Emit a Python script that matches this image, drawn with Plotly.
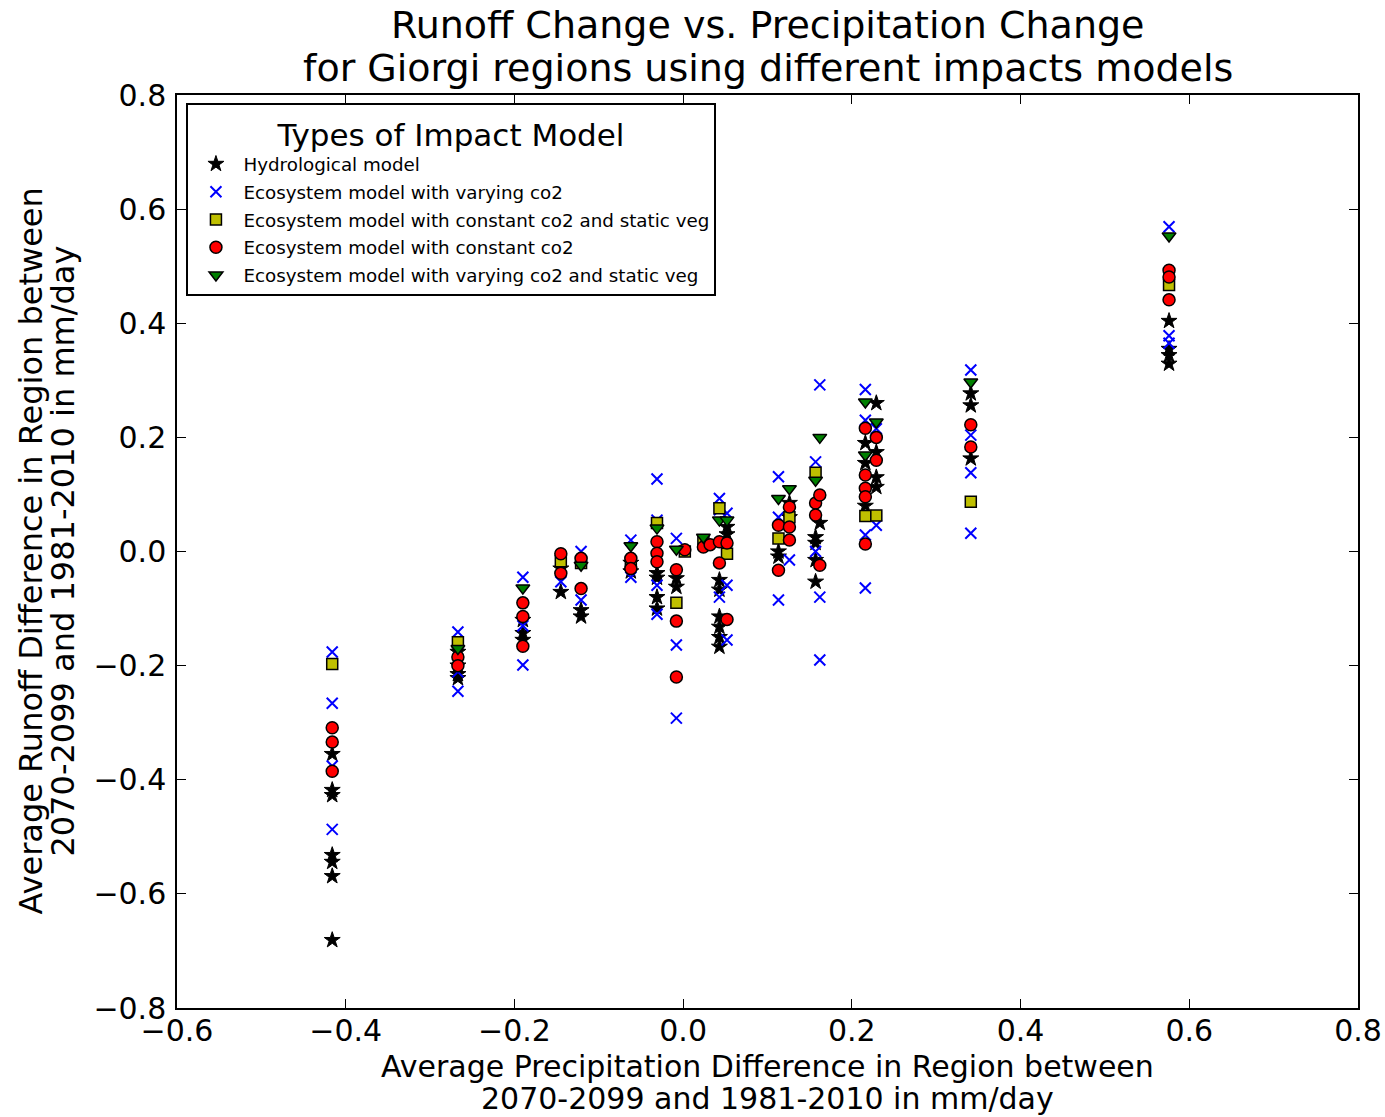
import plotly.graph_objects as go

# ---- data ----
hyd_x = [-0.416]*7 + [-0.267]*4 + [-0.19]*3 + [-0.145]*2 + [-0.121]*2 + [-0.062]*2 + [-0.031]*4 + [-0.008]*2 \
    + [0.043]*6 + [0.052]*2 + [0.113]*2 + [0.126]*2 + [0.157]*4 + [0.162] + [0.216]*3 + [0.229]*4 + [0.341]*3 + [0.576]*4
hyd_y = [-0.355, -0.418, -0.427, -0.532, -0.544, -0.569, -0.681,
         -0.176, -0.2, -0.215, -0.222,
         -0.12, -0.143, -0.155,
         -0.03, -0.071,
         -0.103, -0.114,
         -0.02, -0.035,
         -0.038, -0.046, -0.08, -0.1,
         -0.047, -0.062,
         -0.05, -0.067, -0.114, -0.132, -0.15, -0.167,
         0.043, 0.03,
         0.0, -0.009,
         0.085, 0.06,
         0.025, 0.015, -0.015, -0.053,
         0.05,
         0.19, 0.155, 0.08,
         0.26, 0.174, 0.13, 0.113,
         0.277, 0.256, 0.163,
         0.404, 0.355, 0.344, 0.329]

vco2_x = [-0.416]*4 + [-0.267]*3 + [-0.19]*3 + [-0.145] + [-0.121]*2 + [-0.062]*2 + [-0.031]*4 + [-0.008]*3 \
    + [0.043]*3 + [0.052]*3 + [0.113]*3 + [0.126] + [0.157]*2 + [0.162]*3 + [0.216]*4 + [0.229]*2 + [0.341]*4 + [0.576]*3
vco2_y = [-0.176, -0.266, -0.376, -0.487,
          -0.141, -0.211, -0.245,
          -0.045, -0.13, -0.199,
          -0.053,
          0.0, -0.085,
          0.02, -0.045,
          0.127, 0.055, -0.059, -0.11,
          0.023, -0.164, -0.292,
          0.093, 0.073, -0.08,
          0.067, -0.059, -0.155,
          0.131, 0.06, -0.085,
          -0.015,
          0.157, 0.0,
          0.292, -0.08, -0.19,
          0.284, 0.23, 0.029, -0.064,
          0.046, 0.215,
          0.318, 0.204, 0.138, 0.032,
          0.569, 0.378, 0.365]

csv_x = [-0.416, -0.267, -0.145, -0.121, -0.062, -0.031, -0.008, 0.002, 0.024, 0.043,
         0.052, 0.113, 0.126, 0.157, 0.216, 0.229, 0.341, 0.576]
csv_y = [-0.197, -0.159, -0.017, -0.02, -0.02, 0.05, -0.09, 0.0, 0.017, 0.076,
         -0.004, 0.023, 0.06, 0.138, 0.062, 0.063, 0.087, 0.467]

cco2_x = [-0.416]*3 + [-0.267]*2 + [-0.19]*3 + [-0.145]*2 + [-0.121]*2 + [-0.062]*2 + [-0.031]*3 + [-0.008]*3 \
    + [0.002, 0.024, 0.032] + [0.043]*2 + [0.052]*2 + [0.113]*2 + [0.126]*3 + [0.157]*2 + [0.162]*2 \
    + [0.216]*5 + [0.229]*2 + [0.341]*2 + [0.576]*3
cco2_y = [-0.309, -0.334, -0.385,
          -0.185, -0.2,
          -0.09, -0.114, -0.166,
          -0.004, -0.038,
          -0.012, -0.065,
          -0.012, -0.03,
          0.017, -0.003, -0.018,
          -0.032, -0.122, -0.22,
          0.003, 0.008, 0.012,
          0.017, -0.02,
          0.015, -0.119,
          0.046, -0.033,
          0.078, 0.043, 0.02,
          0.085, 0.064,
          0.099, -0.024,
          0.216, 0.134, 0.111, 0.096, 0.013,
          0.2, 0.16,
          0.222, 0.183,
          0.493, 0.481, 0.441]

vsv_x = [-0.267, -0.19, -0.121, -0.062, -0.031, -0.008, 0.024, 0.043, 0.052, 0.113,
         0.126, 0.157, 0.162, 0.216, 0.216, 0.229, 0.341, 0.576]
vsv_y = [-0.17, -0.064, -0.024, 0.01, 0.041, 0.004, 0.025, 0.055, 0.055, 0.093,
         0.11, 0.125, 0.2, 0.262, 0.169, 0.227, 0.297, 0.553]

x_ticks = [-0.6, -0.4, -0.2, 0.0, 0.2, 0.4, 0.6, 0.8]
y_ticks = [-0.8, -0.6, -0.4, -0.2, 0.0, 0.2, 0.4, 0.6, 0.8]

title_lines = ["Runoff Change vs. Precipitation Change",
               "for Giorgi regions using different impacts models"]
xtitle_lines = ["Average Precipitation Difference in Region between",
                "2070-2099 and 1981-2010 in mm/day"]
ytitle_lines = ["Average Runoff Difference in Region between",
                "2070-2099 and 1981-2010 in mm/day"]

FONT = "DejaVu Sans"

fig = go.Figure()
fig.add_trace(go.Scatter(x=hyd_x, y=hyd_y, mode="markers", name="Hydrological model", legendgroup="a",
                         marker=dict(symbol="star", size=12, color="black", line=dict(color="black", width=1))))
fig.add_trace(go.Scatter(x=vco2_x, y=vco2_y, mode="markers", name="Ecosystem model with varying co2", legendgroup="b",
                         marker=dict(symbol="x-thin", size=11, color="blue", line=dict(color="blue", width=2))))
fig.add_trace(go.Scatter(x=csv_x, y=csv_y, mode="markers", name="Ecosystem model with constant co2 and static veg",
                         legendgroup="c",
                         marker=dict(symbol="square", size=11, color="#bfbf00", line=dict(color="black", width=1.5))))
fig.add_trace(go.Scatter(x=cco2_x, y=cco2_y, mode="markers", name="Ecosystem model with constant co2", legendgroup="d",
                         marker=dict(symbol="circle", size=12, color="red", line=dict(color="black", width=1.5))))
fig.add_trace(go.Scatter(x=vsv_x, y=vsv_y, mode="markers", name="Ecosystem model with varying co2 and static veg",
                         legendgroup="e",
                         marker=dict(symbol="triangle-down", size=12, color="green", line=dict(color="black", width=1.5))))

axis_common = dict(showgrid=False, zeroline=False, showline=True, linecolor="black", linewidth=1.5,
                   mirror="allticks", ticks="inside", ticklen=9, tickwidth=1, tickcolor="black",
                   tickfont=dict(family=FONT, size=30, color="black"), tickformat=".1f", automargin=False)

annotations = []
# title lines (pixel offsets above the plot top)
for txt, shift in zip(title_lines, [70, 27]):
    annotations.append(dict(text=txt, xref="paper", yref="paper", x=0.5, y=1, yshift=shift,
                            xanchor="center", yanchor="middle", showarrow=False,
                            font=dict(family=FONT, size=38, color="black")))
for txt, shift in zip(xtitle_lines, [-58, -90]):
    annotations.append(dict(text=txt, xref="paper", yref="paper", x=0.5, y=0, yshift=shift,
                            xanchor="center", yanchor="middle", showarrow=False,
                            font=dict(family=FONT, size=30, color="black")))
for txt, shift in zip(ytitle_lines, [-147, -115]):
    annotations.append(dict(text=txt, xref="paper", yref="paper", x=0, y=0.5, xshift=shift,
                            xanchor="center", yanchor="middle", showarrow=False, textangle=-90,
                            font=dict(family=FONT, size=32, color="black")))

fig.update_layout(
    width=1385, height=1117,
    margin=dict(l=177, r=27, t=95, b=109, autoexpand=False),
    paper_bgcolor="white", plot_bgcolor="white",
    font=dict(family=FONT, color="black"),
    xaxis=dict(range=[-0.6, 0.8], tickvals=x_ticks, ticklabelstandoff=-5, **axis_common),
    yaxis=dict(range=[-0.8, 0.8], tickvals=y_ticks, ticklabelstandoff=3, **axis_common),
    annotations=annotations,
    legend=dict(x=0.008, y=0.991, xanchor="left", yanchor="top",
                bordercolor="black", borderwidth=2, bgcolor="white",
                font=dict(family=FONT, size=18.3, color="black"),
                title=dict(text="Types of Impact Model", side="top center",
                           font=dict(family=FONT, size=31, color="black")),
                tracegroupgap=1, itemsizing="trace", itemwidth=45),
)

fig.write_html("out.html")
